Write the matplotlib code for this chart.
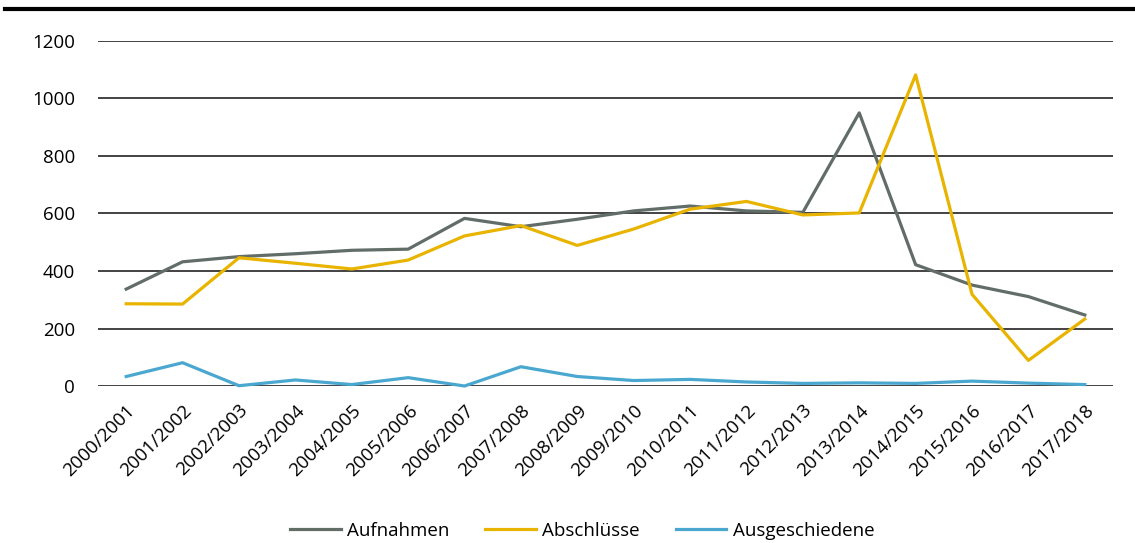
import matplotlib.pyplot as plt
from matplotlib.lines import Line2D
import numpy as np

plt.rcParams['font.family'] = ['Open Sans', 'DejaVu Sans']

# school years
jahre = ["2000/2001", "2001/2002", "2002/2003", "2003/2004", "2004/2005", "2005/2006",
         "2006/2007", "2007/2008", "2008/2009", "2009/2010", "2010/2011", "2011/2012",
         "2012/2013", "2013/2014", "2014/2015", "2015/2016", "2016/2017", "2017/2018"]

aufnahmen = [337, 432, 450, 460, 472, 476, 583, 554, 580, 609, 626, 609,
             604, 950, 422, 351, 311, 247]
abschluesse = [286, 285, 446, 427, 407, 438, 522, 558, 489, 546, 615, 642,
               595, 602, 1082, 319, 89, 233]
ausgeschiedene = [33, 81, 1, 21, 5, 29, 0, 67, 33, 19, 23, 14,
                  9, 11, 9, 17, 10, 5]

fig = plt.figure(figsize=(11.35, 5.43), dpi=100)
ax = fig.add_axes([98 / 1135, 1 - 386 / 543, (1113 - 98) / 1135, (386 - 41) / 543])

x = np.arange(len(jahre))
ax.plot(x, aufnahmen, color="#626d68", lw=2.3, label="Aufnahmen", clip_on=False, zorder=3)
ax.plot(x, abschluesse, color="#e8b400", lw=2.3, label="Abschlüsse", clip_on=False, zorder=3)
ax.plot(x, ausgeschiedene, color="#4aa8d0", lw=2.3, label="Ausgeschiedene", clip_on=False, zorder=3)

ax.set_xlim(-0.5, len(jahre) - 0.5)
ax.set_ylim(0, 1200)
ax.set_yticks(range(0, 1201, 200))
ax.yaxis.grid(True, color="#222222", lw=1.2)
ax.set_axisbelow(True)
for s in ax.spines.values():
    s.set_visible(False)

fs = 13.5
ax.set_xticks(x)
ax.set_xticklabels(jahre, rotation=45, ha="right", rotation_mode="anchor", fontsize=fs)
ax.tick_params(axis="x", length=0, pad=11)
ax.tick_params(axis="y", length=0, pad=16.5, labelsize=fs)

ax.legend(loc="center", bbox_to_anchor=(0.477, -0.42), ncol=3, frameon=False,
          fontsize=fs, handlelength=2.7, handletextpad=0.35, columnspacing=1.9)

# thick line along the top
fig.add_artist(Line2D([5 / 1135, 1], [1 - 8.5 / 543, 1 - 8.5 / 543], color="black", lw=3))

fig.savefig("out.png", dpi=100)
